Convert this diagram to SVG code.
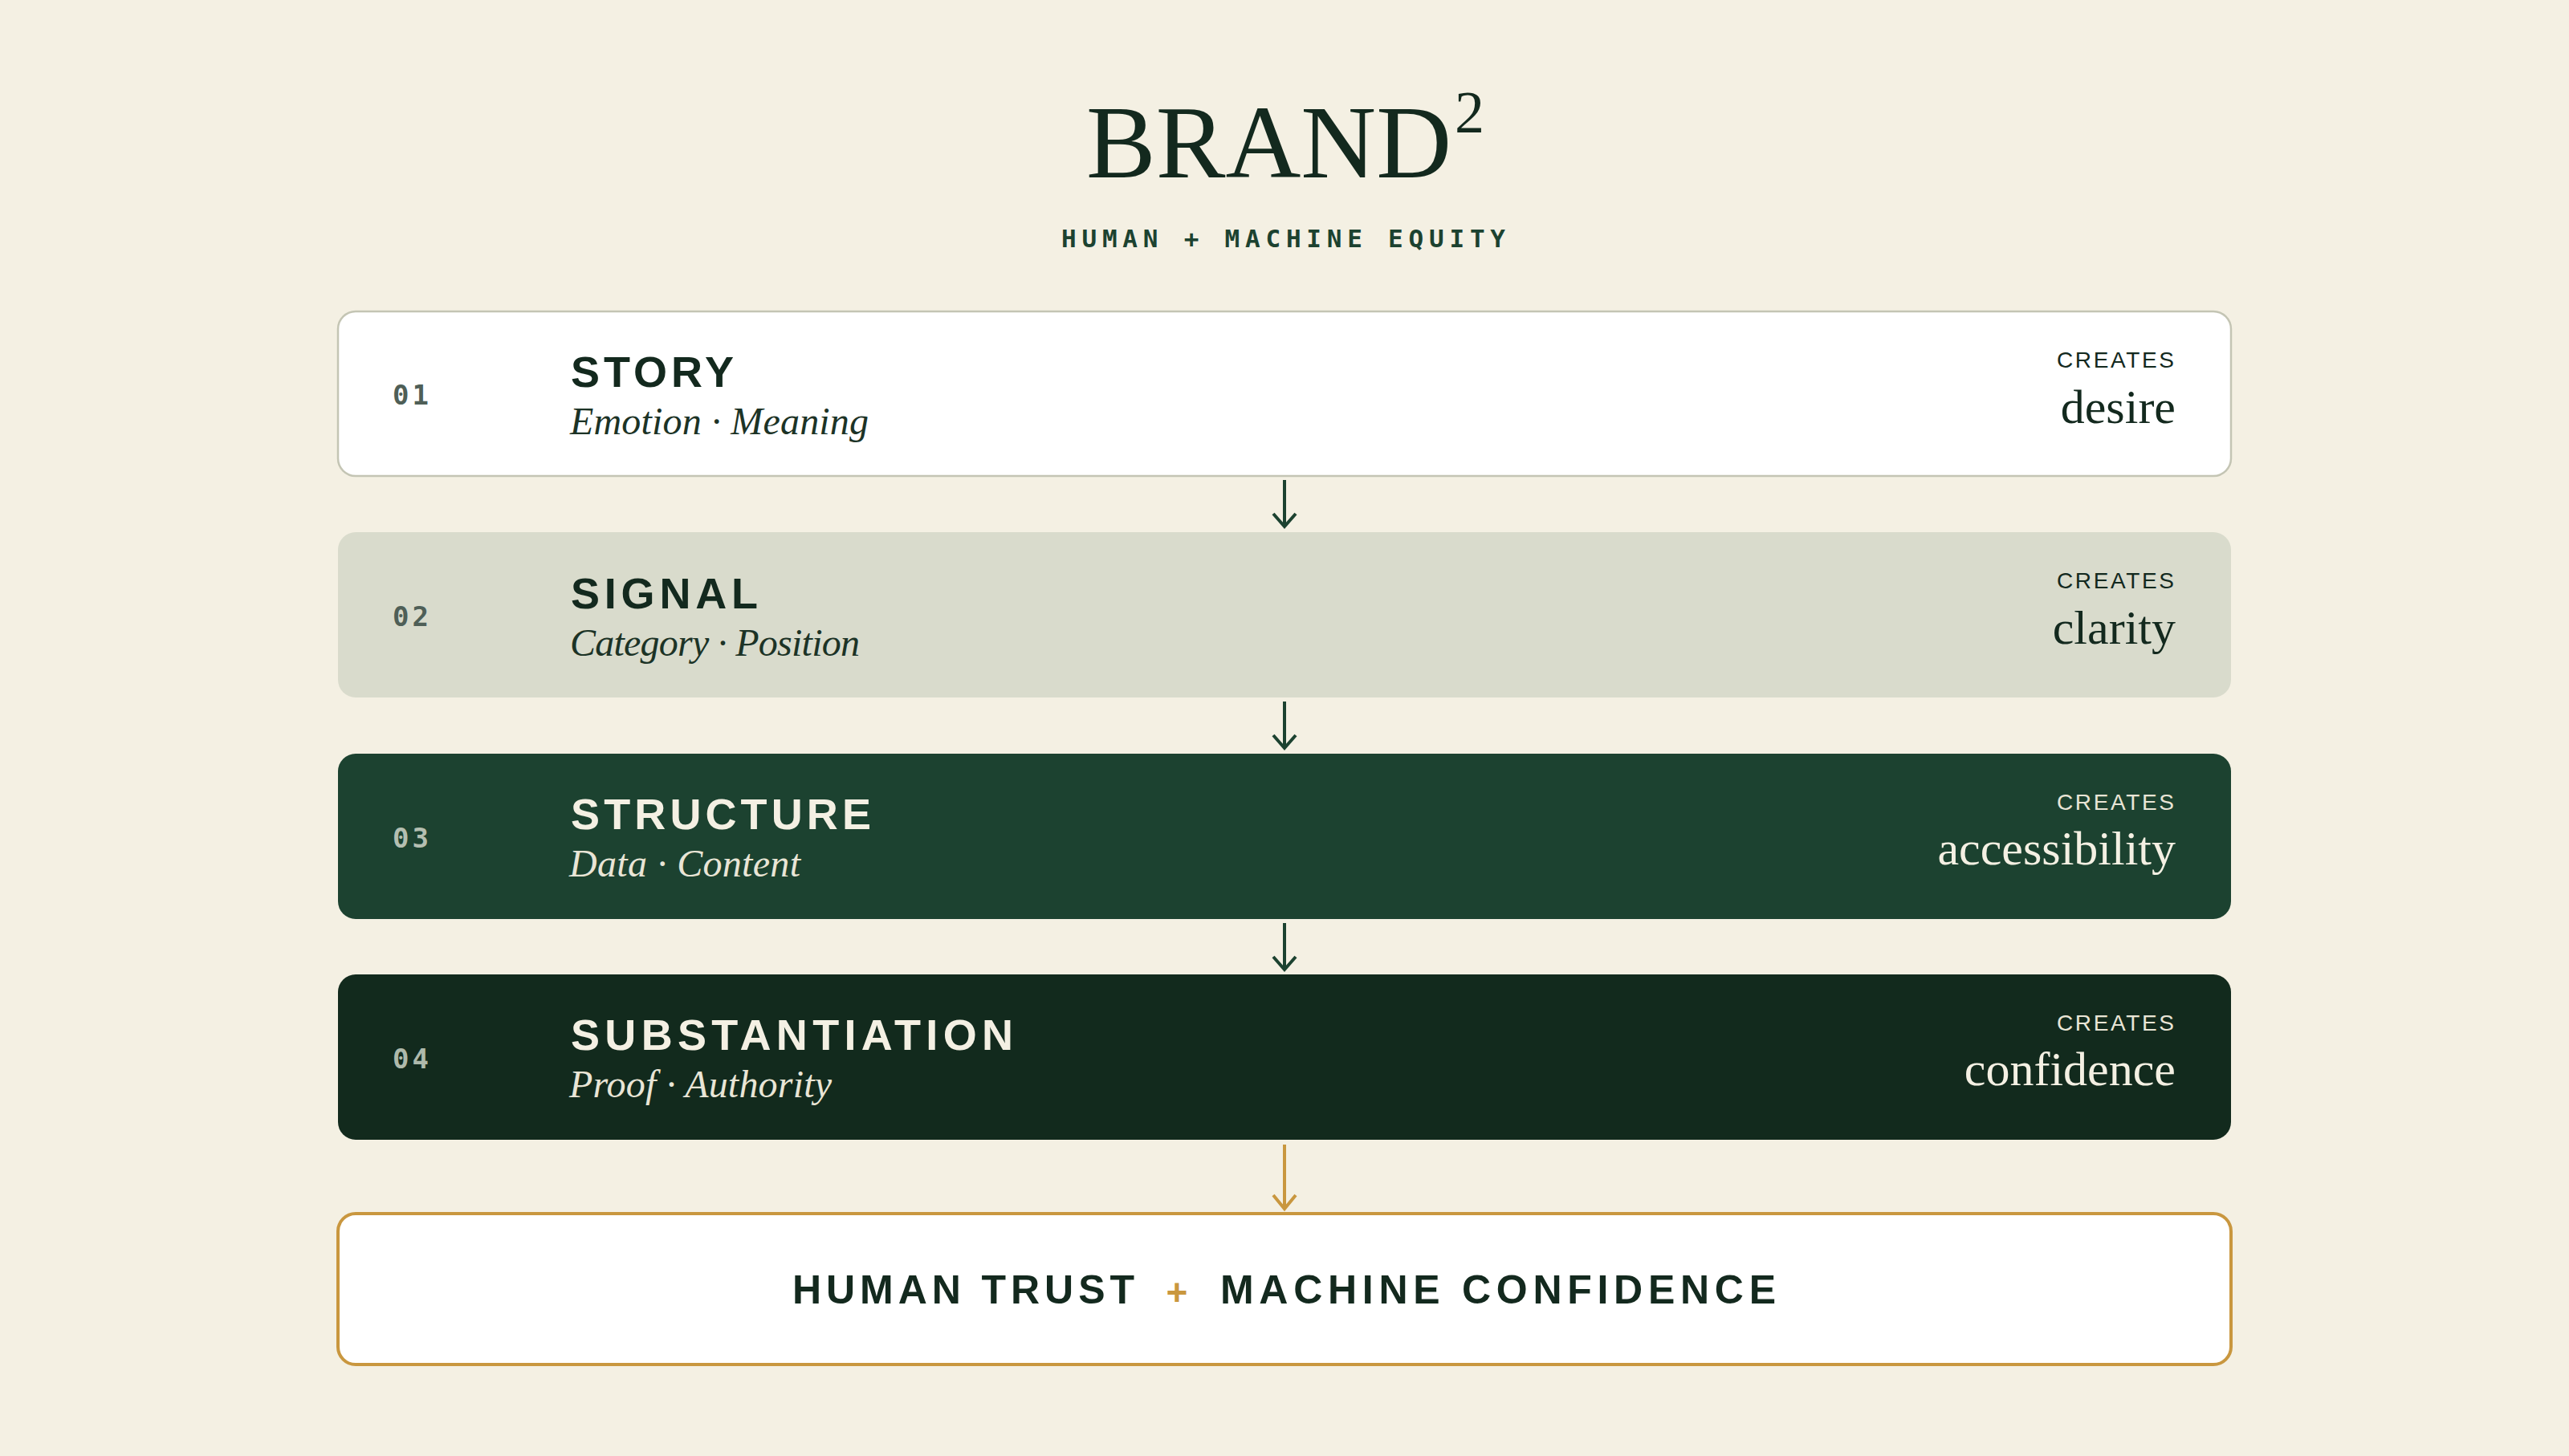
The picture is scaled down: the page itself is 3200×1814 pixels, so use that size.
<svg xmlns="http://www.w3.org/2000/svg" width="3200" height="1814" viewBox="0 0 3200 1814">
  <defs>
    <style>
      .serif { font-family: "Liberation Serif", "DejaVu Serif", serif; }
      .ital { font-family: "Liberation Serif", "DejaVu Serif", serif; font-style: italic; font-size: 48px; }
      .sans { font-family: "Liberation Sans", Arial, sans-serif; }
      .mono { font-family: "DejaVu Sans Mono", "Liberation Mono", monospace; font-weight: 700; }
      .num { font-family: "DejaVu Sans Mono", "Liberation Mono", monospace; font-weight: 700; font-size: 34px; letter-spacing: 4px; }
      .title { font-family: "Liberation Sans", Arial, sans-serif; font-weight: 700; font-size: 54px; }
      .creates { font-family: "Liberation Sans", Arial, sans-serif; font-size: 28px; }
      .value { font-family: "Liberation Serif", "DejaVu Serif", serif; font-size: 60px; }
      .dark { fill: #13291E; }
      .cream { fill: #F4F0E3; }
      .arrow { fill: none; stroke: #1C4230; stroke-width: 4; stroke-linecap: butt; stroke-linejoin: miter; }
      .arrow-gold { fill: none; stroke: #C9973F; stroke-width: 4; }
    </style>
  </defs>

  <rect x="0" y="0" width="3200" height="1814" fill="#F4F0E3"/>

  <g id="header">
    <text class="serif dark" x="1353" y="221" font-size="130">BRAND<tspan dx="4" dy="-56" font-size="74">2</tspan></text>
    <text class="mono" x="1322" y="308" font-size="31" fill="#1C4230" textLength="553" lengthAdjust="spacing">HUMAN + MACHINE EQUITY</text>
  </g>

  <g id="node-story">
    <rect x="421" y="388" width="2358" height="205" rx="22" fill="#FFFFFF" stroke="#C4C5B4" stroke-width="2.5"/>
    <text class="num" x="489" y="504" fill="#4F5F57">01</text>
    <text class="title dark" x="711" y="482" textLength="203" lengthAdjust="spacing">STORY</text>
    <text class="ital" x="710" y="541" fill="#1C3326" textLength="372" lengthAdjust="spacing">Emotion · Meaning</text>
    <text class="creates dark" x="2708" y="458" text-anchor="end" textLength="146" lengthAdjust="spacing">CREATES</text>
    <text class="value dark" x="2710" y="527" text-anchor="end">desire</text>
  </g>

  <g id="node-signal">
    <rect x="421" y="663" width="2358" height="206" rx="22" fill="#D9DBCC"/>
    <text class="num" x="489" y="780" fill="#4F5F57">02</text>
    <text class="title dark" x="711" y="758" textLength="233" lengthAdjust="spacing">SIGNAL</text>
    <text class="ital" x="710" y="817" fill="#1C3326" textLength="361" lengthAdjust="spacing">Category · Position</text>
    <text class="creates dark" x="2708" y="733" text-anchor="end" textLength="146" lengthAdjust="spacing">CREATES</text>
    <text class="value dark" x="2710" y="802" text-anchor="end">clarity</text>
  </g>

  <g id="node-structure">
    <rect x="421" y="939" width="2358" height="206" rx="22" fill="#1C4230"/>
    <text class="num" x="489" y="1056" fill="#B4BFB1">03</text>
    <text class="title cream" x="711" y="1033" textLength="374" lengthAdjust="spacing">STRUCTURE</text>
    <text class="ital" x="709" y="1092" fill="#E9E5D6" textLength="288" lengthAdjust="spacing">Data · Content</text>
    <text class="creates" x="2708" y="1009" text-anchor="end" fill="#E9E5D6" textLength="146" lengthAdjust="spacing">CREATES</text>
    <text class="value cream" x="2710" y="1077" text-anchor="end">accessibility</text>
  </g>

  <g id="node-substantiation">
    <rect x="421" y="1214" width="2358" height="206" rx="22" fill="#122A1D"/>
    <text class="num" x="489" y="1331" fill="#AEB9AB">04</text>
    <text class="title cream" x="711" y="1308" textLength="551" lengthAdjust="spacing">SUBSTANTIATION</text>
    <text class="ital" x="709" y="1367" fill="#E9E5D6" textLength="327" lengthAdjust="spacing">Proof · Authority</text>
    <text class="creates" x="2708" y="1284" text-anchor="end" fill="#E9E5D6" textLength="146" lengthAdjust="spacing">CREATES</text>
    <text class="value cream" x="2710" y="1352" text-anchor="end">confidence</text>
  </g>

  <g id="node-outcome">
    <rect x="421" y="1512" width="2358" height="188" rx="22" fill="#FFFFFF" stroke="#C9973F" stroke-width="4"/>
    <text class="sans dark" x="987" y="1624" font-size="50" font-weight="700" textLength="426" lengthAdjust="spacing">HUMAN TRUST</text>
    <text class="sans" x="1466" y="1626" font-size="46" font-weight="700" fill="#C9973F" text-anchor="middle">+</text>
    <text class="sans dark" x="1520" y="1624" font-size="50" font-weight="700" textLength="692" lengthAdjust="spacing">MACHINE CONFIDENCE</text>
  </g>

  <g id="connectors">
    <line class="arrow" x1="1600" y1="598" x2="1600" y2="656"/>
    <polyline class="arrow" points="1586,640 1600,656 1614,640"/>
    <line class="arrow" x1="1600" y1="874" x2="1600" y2="932"/>
    <polyline class="arrow" points="1586,916 1600,932 1614,916"/>
    <line class="arrow" x1="1600" y1="1150" x2="1600" y2="1208"/>
    <polyline class="arrow" points="1586,1192 1600,1208 1614,1192"/>
    <line class="arrow-gold" x1="1600" y1="1426" x2="1600" y2="1506"/>
    <polyline class="arrow-gold" points="1586,1489 1600,1506 1614,1489"/>
  </g>
</svg>
